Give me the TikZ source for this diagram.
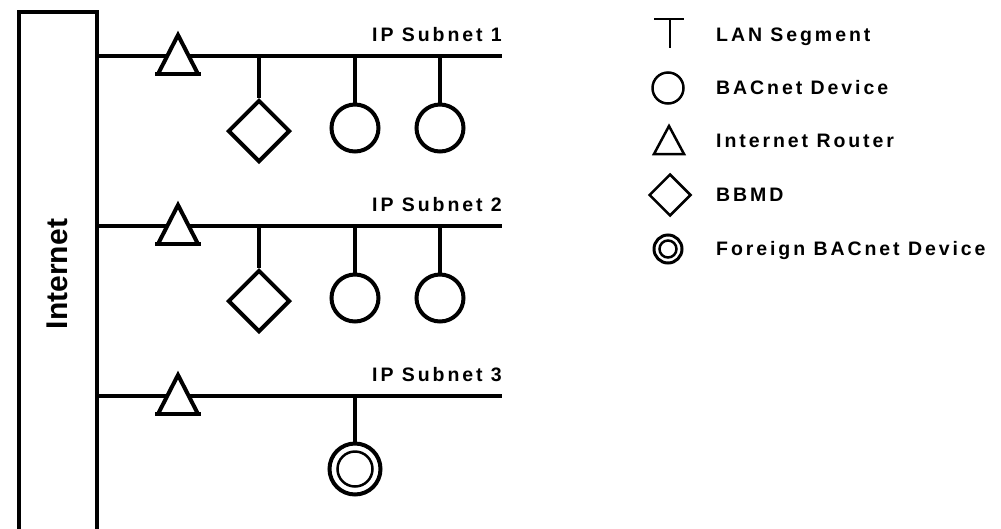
\documentclass[tikz,border=0pt]{standalone}
\usepackage{fontspec}
\setmainfont{Liberation Sans}
\newfontfamily\spacedfont[LetterSpace=15]{Liberation Sans}
\usetikzlibrary{shapes.geometric}
\tikzset{
  heavy/.style={line width=4pt},
  light/.style={line width=2.5pt},
  lbl/.style={font=\spacedfont\bfseries\fontsize{19.5}{21}\selectfont, inner sep=0pt},
  dev/.style={circle, draw, heavy, minimum size=47pt, inner sep=0pt, fill=white},
  bbmd/.style={diamond, draw, heavy, minimum size=62pt, inner sep=0pt, fill=white},
  fdev/.style={circle, draw, heavy, minimum size=51pt, inner sep=0pt, fill=white},
  fin/.style={circle, draw, light, minimum size=35pt, inner sep=0pt},
}
\begin{document}
\begin{tikzpicture}[x=1pt,y=-1pt]
\useasboundingbox (0,0) rectangle (1001,528);
% Internet box
\begin{scope}
\clip (0,0) rectangle (1001,528);
\draw[heavy, line join=miter] (19,540) -- (19,12) -- (97,12) -- (97,540);
\end{scope}
\node[font=\bfseries\fontsize{30}{31}\selectfont, rotate=90, inner sep=0pt] (inet) at (57,274) {Internet};
% Subnets
\foreach \i/\y in {1/56, 2/226, 3/396} {
  \coordinate (s\i a) at (97,\y);
  \coordinate (s\i b) at (502,\y);
  \draw[heavy] (s\i a) -- (s\i b);
  \node[lbl, anchor=base east] (lab\i) at (502,\y-15) {IP Subnet \i};
  % router
  \coordinate (r\i) at (178,\y);
  \filldraw[heavy, fill=white, line join=miter] (158,\y+18) -- (178,\y-21) -- (198,\y+18);
  \draw[heavy] (155,\y+18) -- (201,\y+18);
}
% devices on subnets 1 and 2
\foreach \i/\y in {1/56, 2/226} {
  \coordinate (t\i a) at (259,\y);
  \coordinate (t\i b) at (355,\y);
  \coordinate (t\i c) at (440,\y);
  \node[bbmd] (b\i) at (259,\y+75) {};
  \node[dev] (d\i a) at (355,\y+72) {};
  \node[dev] (d\i b) at (440,\y+72) {};
  \draw[heavy] (t\i a) -- (b\i.north);
  \draw[heavy] (t\i b) -- (d\i a.north);
  \draw[heavy] (t\i c) -- (d\i b.north);
}
% foreign device on subnet 3
\coordinate (t3a) at (355,396);
\node[fdev] (f3) at (355,469) {};
\node[fin] (f3i) at (355,469) {};
\draw[heavy] (t3a) -- (f3.north);
% Legend
\coordinate (lt) at (670,19);
\coordinate (ltb) at (670,48);
\draw[light] (654,19) -- (684,19);
\draw[light] (lt) -- (ltb);
\node[lbl, anchor=base west] (l1) at (716,41) {LAN Segment};
\node[circle, draw, light, minimum size=31pt, inner sep=0pt] (lc) at (668,88) {};
\node[lbl, anchor=base west] (l2) at (716,94) {BACnet Device};
\coordinate (ltr) at (669,140);
\draw[light, line join=miter] (654,154) -- (669,126) -- (684,154) -- cycle;
\node[lbl, anchor=base west] (l3) at (716,147) {Internet Router};
\node[diamond, draw, light, minimum size=42pt, inner sep=0pt] (ld) at (670,195) {};
\node[lbl, anchor=base west] (l4) at (716,201) {BBMD};
\node[circle, draw, line width=3pt, minimum size=28pt, inner sep=0pt] (lf) at (668,249) {};
\node[circle, draw, light, minimum size=17pt, inner sep=0pt] (lfi) at (668,249) {};
\node[lbl, anchor=base west] (l5) at (716,255) {Foreign BACnet Device};
\end{tikzpicture}
\end{document}
